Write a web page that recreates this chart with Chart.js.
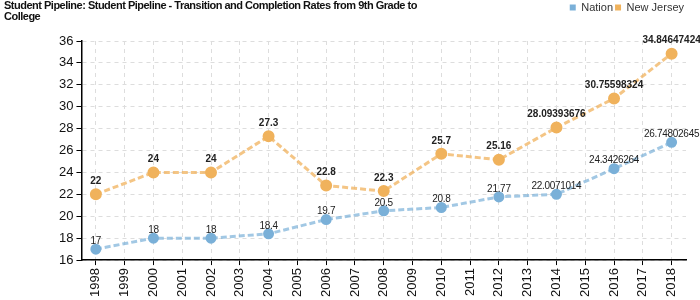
<!DOCTYPE html>
<html>
<head>
<meta charset="utf-8">
<script src="https://cdn.jsdelivr.net/npm/chart.js@4/dist/chart.umd.min.js"></script>
<style>
  body { margin: 0; background: #fff; }
  #wrap { position: relative; width: 700px; height: 300px; }
  #title {
    position: absolute; left: 4px; top: 0px; width: 420px;
    font: bold 11px "Liberation Sans", Arial, sans-serif; line-height: 11px; color: #111;
    letter-spacing: -0.5px;
  }
</style>
</head>
<body>
<div id="wrap">
  <canvas id="chart" width="700" height="300"></canvas>
  <div id="title">Student Pipeline: Student Pipeline - Transition and Completion Rates from 9th Grade to College</div>
</div>
<script>
// 연도 (홀수 해는 값 없음)
const years = ['1998','1999','2000','2001','2002','2003','2004','2005','2006','2007','2008',
  '2009','2010','2011','2012','2013','2014','2015','2016','2017','2018'];
const nation = [17, null, 18, null, 18, null, 18.4, null, 19.7, null, 20.5,
  null, 20.8, null, 21.77, null, 22.0071014, null, 24.3426264, null, 26.74802645];
const newJersey = [22, null, 24, null, 24, null, 27.3, null, 22.8, null, 22.3,
  null, 25.7, null, 25.16, null, 28.09393676, null, 30.75598324, null, 34.84647424];
const seriesNames = ['Nation', 'New Jersey'];
const colors = ['#7ab0d8', '#f0b25c'];

const FONT = '"Liberation Sans", Arial, sans-serif';

// 점 위에 값 표시
const valueLabels = {
  id: 'valueLabels',
  afterDatasetsDraw(chart) {
    const ctx = chart.ctx;
    chart.data.datasets.forEach((ds, i) => {
      const meta = chart.getDatasetMeta(i);
      const bold = i === 1;
      ctx.save();
      ctx.font = (bold ? 'bold ' : '') + '10px ' + FONT;
      ctx.letterSpacing = bold ? '0px' : '-0.3px';
      ctx.fillStyle = '#222';
      ctx.textAlign = 'center';
      ctx.textBaseline = 'bottom';
      meta.data.forEach((pt, j) => {
        const v = ds.data[j];
        if (v === null) return;
        ctx.fillText(String(v), pt.x, pt.y - (bold ? 8 : 3));
      });
      ctx.restore();
    });
  }
};

// 범례 아래 여백
const legendGap = {
  id: 'legendGap',
  beforeInit(chart) {
    const fit = chart.legend.fit;
    chart.legend.fit = function () {
      fit.bind(chart.legend)();
      this.height += 18;
    };
  }
};

new Chart(document.getElementById('chart'), {
  type: 'line',
  data: {
    labels: years,
    datasets: [
      {
        label: seriesNames[0],
        data: nation,
        borderColor: 'rgba(122,176,216,0.7)',
        backgroundColor: colors[0],
        pointBackgroundColor: colors[0],
        pointBorderColor: colors[0],
        borderWidth: 3,
        borderDash: [6, 3],
        pointRadius: 4,
        spanGaps: true,
        tension: 0
      },
      {
        label: seriesNames[1],
        data: newJersey,
        borderColor: 'rgba(240,178,92,0.75)',
        backgroundColor: colors[1],
        pointBackgroundColor: colors[1],
        pointBorderColor: colors[1],
        borderWidth: 3,
        borderDash: [6, 3],
        pointRadius: 4.5,
        spanGaps: true,
        tension: 0
      }
    ]
  },
  options: {
    responsive: false,
    animation: false,
    layout: { padding: { top: 0, right: 14, left: 56, bottom: 0 } },
    plugins: {
      legend: {
        position: 'top',
        align: 'end',
        labels: {
          boxWidth: 6, boxHeight: 6, padding: 2,
          color: '#333',
          font: { family: FONT, size: 11 },
          generateLabels: chart => chart.data.datasets.map((ds, i) => ({
            text: ds.label,
            fillStyle: colors[i],
            strokeStyle: colors[i],
            lineWidth: 0,
            lineDash: [],
            fontColor: '#333',
            hidden: false,
            datasetIndex: i
          }))
        }
      },
      tooltip: { enabled: false }
    },
    scales: {
      x: {
        offset: true,
        grid: {
          color: '#dddddd',
          tickColor: '#000',
          tickLength: 5,
          offset: false
        },
        border: { color: '#000', width: 1.5, dash: [4, 4] },
        ticks: {
          autoSkip: false, maxRotation: 90, minRotation: 90,
          color: '#111', font: { family: FONT, size: 13 }
        }
      },
      y: {
        min: 16, max: 36,
        grid: {
          color: c => (c.tick && c.tick.value % 2 === 0 ? '#dddddd' : 'rgba(0,0,0,0)'),
          tickColor: c => (c.tick && c.tick.value % 2 === 0 ? '#000' : '#d00'),
          tickLength: 5
        },
        border: { color: '#000', width: 1.5, dash: [4, 4] },
        ticks: {
          stepSize: 1,
          color: '#111', font: { family: FONT, size: 13 },
          callback: v => (v % 2 === 0 ? v : '')
        }
      }
    }
  },
  plugins: [valueLabels, legendGap]
});
</script>
</body>
</html>
